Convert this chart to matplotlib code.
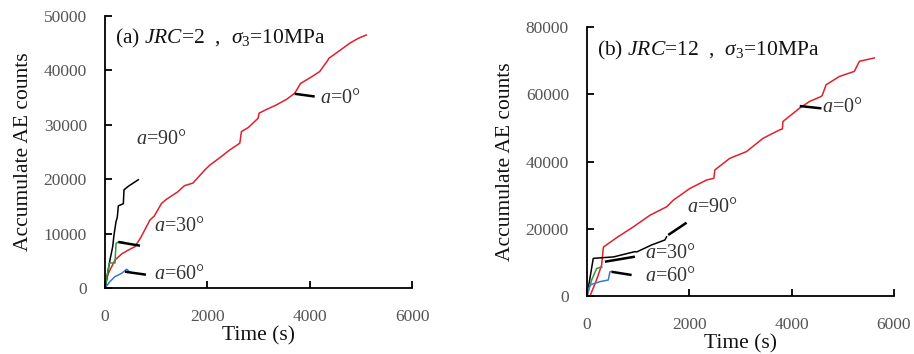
import matplotlib

matplotlib.use("Agg")
import matplotlib.pyplot as plt

plt.rcParams["font.family"] = ["Liberation Serif", "DejaVu Serif"]
plt.rcParams["mathtext.fontset"] = "custom"
plt.rcParams["mathtext.rm"] = "Liberation Serif"
plt.rcParams["mathtext.it"] = "Liberation Serif:italic"

# (a) JRC = 2, sigma3 = 10 MPa
a_t0 = [0, 60, 195, 330, 480, 585, 700, 878, 960, 1106, 1200, 1425, 1550, 1720,
        1950, 2050, 2250, 2440, 2634, 2666, 2800, 2992, 3010, 3150, 3350, 3550,
        3707, 3805, 3820, 4000, 4195, 4358, 4370, 4550, 4780, 4950, 5106]
a_y0 = [0, 2600, 5150, 6300, 7100, 7600, 9300, 12500, 13200, 15570, 16300, 17700,
        18800, 19300, 21700, 22600, 24000, 25400, 26620, 28760, 29500, 31210,
        32130, 32800, 33660, 34700, 35800, 37330, 37600, 38600, 39780, 41920,
        42200, 43400, 44980, 45900, 46510]
a_t30 = [0, 85, 195, 215, 280, 357]
a_y30 = [0, 4600, 4600, 8200, 8550, 8400]
a_t60 = [0, 98, 195, 325, 423, 455]
a_y60 = [0, 1200, 2100, 2700, 3450, 3200]
a_t90 = [0, 98, 150, 176, 215, 240, 260, 358, 371, 455, 650]
a_y90 = [0, 5200, 7600, 9800, 12200, 13000, 15100, 15500, 18050, 18700, 19900]

# (b) JRC = 12, sigma3 = 10 MPa
b_t0 = [0, 59, 180, 254, 287, 318, 325, 585, 910, 1234, 1558, 1688, 2013, 2338,
        2480, 2500, 2792, 3117, 3442, 3766, 3820, 3831, 4156, 4351, 4578, 4600,
        4675, 4935, 5227, 5325, 5617]
b_y0 = [0, 0, 4500, 7740, 9200, 14200, 14600, 17400, 20600, 24050, 26540, 28500,
        32000, 34500, 35000, 37500, 40950, 42940, 46900, 49400, 49700, 51900,
        55870, 57850, 59340, 59700, 62820, 65300, 66800, 69800, 70800]
b_t30 = [0, 91, 189, 254, 290]
b_y30 = [0, 4760, 8200, 8500, 8600]
b_t60 = [0, 59, 254, 416, 449, 480]
b_y60 = [0, 3300, 4270, 4760, 7200, 7300]
b_t90 = [0, 123, 520, 937, 974, 1263, 1523, 1556]
b_y90 = [0, 11200, 11630, 13200, 13120, 15180, 16670, 17600]

TICK_GREY = "#555555"
TEXT_GREY = "#333333"
LABEL_SIZE = 14.5


def style_axes(ax, ymax, ystep):
    ax.set_xlim(0, 6000)
    ax.set_ylim(0, ymax)
    ax.set_xticks(range(0, 6001, 2000))
    ax.set_yticks(range(0, ymax + 1, ystep))
    for side in ("top", "right"):
        ax.spines[side].set_visible(False)
    for side in ("left", "bottom"):
        ax.spines[side].set_linewidth(1.3)
    ax.tick_params(direction="in", length=5, width=1.3, labelsize=12.5,
                   labelcolor=TICK_GREY)
    ax.tick_params(axis="x", pad=15)
    ax.tick_params(axis="y", pad=13)
    ax.set_xlabel("Time (s)", fontsize=15.5, color="#111111", labelpad=1)
    ax.set_ylabel("Accumulate AE counts", fontsize=15.5, color="#111111", labelpad=8)


def leader(ax, x0, y0, x1, y1):
    ax.plot([x0, x1], [y0, y1], color="black", lw=1.8, solid_capstyle="butt")


fig = plt.figure(figsize=(9.14, 3.54), dpi=100)
ax1 = fig.add_axes([0.1149, 0.1864, 0.3359, 0.7684])
ax2 = fig.add_axes([0.6422, 0.1638, 0.3358, 0.7599])

# panel (a)
ax1.plot(a_t0, a_y0, color="#e0202a", lw=1.1)
ax1.plot(a_t90, a_y90, color="black", lw=1.1)
ax1.plot(a_t30, a_y30, color="#2e9a3e", lw=1.1)
ax1.plot(a_t60, a_y60, color="#3b78c4", lw=1.1)
style_axes(ax1, 50000, 10000)
ax1.text(195, 45800, r"(a) $JRC$=2  ,  $\sigma_3$=10MPa", fontsize=15.5,
         va="center", color="#111111")
leader(ax1, 3707, 35700, 4098, 35200)
ax1.text(4200, 34900, r"$a$=0°", fontsize=LABEL_SIZE, va="center", color=TEXT_GREY)
ax1.text(600, 27300, r"$a$=90°", fontsize=LABEL_SIZE, va="center", color=TEXT_GREY)
leader(ax1, 260, 8450, 683, 7780)
ax1.text(960, 11300, r"$a$=30°", fontsize=LABEL_SIZE, va="center", color=TEXT_GREY)
leader(ax1, 390, 3000, 800, 2450)
ax1.text(960, 2500, r"$a$=60°", fontsize=LABEL_SIZE, va="center", color=TEXT_GREY)

# panel (b)
ax2.plot(b_t0, b_y0, color="#e0202a", lw=1.1)
ax2.plot(b_t90, b_y90, color="black", lw=1.1)
ax2.plot(b_t30, b_y30, color="#2e9a3e", lw=1.1)
ax2.plot(b_t60, b_y60, color="#3b78c4", lw=1.1)
style_axes(ax2, 80000, 20000)
ax2.text(190, 73000, r"(b) $JRC$=12  ,  $\sigma_3$=10MPa", fontsize=15.5,
         va="center", color="#111111")
leader(ax2, 4160, 56500, 4584, 55800)
ax2.text(4600, 56200, r"$a$=0°", fontsize=LABEL_SIZE, va="center", color=TEXT_GREY)
leader(ax2, 1588, 18150, 1947, 21800)
ax2.text(1960, 26300, r"$a$=90°", fontsize=LABEL_SIZE, va="center", color=TEXT_GREY)
leader(ax2, 350, 10200, 937, 11700)
ax2.text(1130, 12700, r"$a$=30°", fontsize=LABEL_SIZE, va="center", color=TEXT_GREY)
leader(ax2, 482, 7200, 873, 6250)
ax2.text(1130, 5700, r"$a$=60°", fontsize=LABEL_SIZE, va="center", color=TEXT_GREY)

fig.savefig("out.png", dpi=100)
